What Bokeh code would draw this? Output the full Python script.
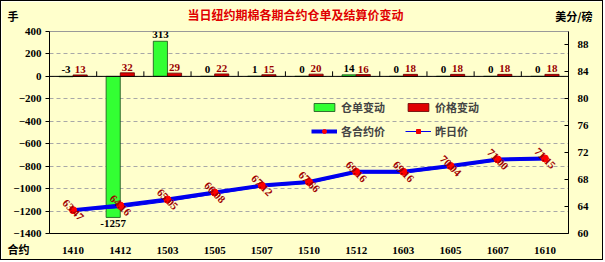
import math

from bokeh.core.properties import value
from bokeh.embed import file_html
from bokeh.models import (ColumnDataSource, FactorRange, FixedTicker, Legend, LegendItem,
                          LinearAxis, Range1d, Span, Title)
from bokeh.plotting import figure
from bokeh.resources import INLINE
from bokeh.transform import dodge

# NY cotton futures: warrant change (lots) and settlement price (cents/lb) per contract
contracts = ["1410", "1412", "1503", "1505", "1507", "1510", "1512", "1603", "1605", "1607", "1610"]
warrant_change = [-3, -1257, 313, 0, 1, 0, 14, 0, 0, 0, 0]
price_change = [13, 32, 29, 22, 15, 20, 16, 18, 18, 18, 18]
settle_price = [63.47, 64.16, 65.05, 66.08, 67.12, 67.66, 69.16, 69.16, 70.04, 71.00, 71.15]
prev_price = [63.34, 63.84, 64.76, 65.86, 66.97, 67.46, 69.00, 68.98, 69.86, 70.82, 70.97]
left_ticks = [-1400, -1200, -1000, -800, -600, -400, -200, 0, 200, 400]
right_ticks = [60, 64, 68, 72, 76, 80, 84, 88]

BG = "#FFFFCC"
NUM_FONT = value("Liberation Serif")
CJK_FONT = "Noto Sans CJK SC"

# label placement for the warrant bars: big drops are labelled under the bar end
g_lab_y = [v if v < -100 else max(v, 0) for v in warrant_change]
g_base = ["top" if v < -100 else "bottom" for v in warrant_change]
g_off = [3 if v < -100 else -3 for v in warrant_change]

src = ColumnDataSource(dict(
    contract=contracts,
    warrant=warrant_change,
    price_chg=price_change,
    settle=settle_price,
    prev=prev_price,
    g_txt=[str(v) for v in warrant_change],
    g_lab_y=g_lab_y,
    g_base=g_base,
    g_off=g_off,
    r_txt=[str(v) for v in price_change],
    s_txt=[f"{v:.2f}" for v in settle_price],
))

p = figure(
    x_range=FactorRange(*contracts, range_padding=0),
    y_range=Range1d(left_ticks[0], left_ticks[-1]),
    width=603, height=260,
    output_backend="svg", toolbar_location=None,
    min_border_left=48, min_border_right=36, min_border_top=30, min_border_bottom=28,
)
p.styles = {"border": "1px solid black"}
p.background_fill_color = BG
p.border_fill_color = BG
p.outline_line_color = "#999999"
p.extra_y_ranges = {"price": Range1d(60, 90)}
p.title.visible = False


# captions sit in collapsed (zero-height) side rows; the trailing blank lines
# lift the visible first line above the row's centre
def caption(text, side, align, offset, color="black", size="11px", lines=3):
    t = Title(text=text + "\n" * (lines - 1), align=align, offset=offset,
              vertical_align="middle", standoff=-200,
              text_color=color, text_font=CJK_FONT, text_font_style="bold",
              text_font_size=size)
    p.add_layout(t, side)


caption("当日纽约期棉各期合约仓单及结算价变动", "above", "left", 138, color="#E00000", size="12px")
caption("手", "above", "left", -42)
caption("美分/磅", "above", "right", -24)
caption("合约", "below", "left", -42, lines=2)

# axes
p.xaxis.axis_line_color = "black"
p.xaxis.major_tick_line_color = None
p.xaxis.minor_tick_line_color = None
p.xaxis.major_label_standoff = 7
p.xaxis.major_label_text_font = "Liberation Serif"
p.xaxis.major_label_text_font_style = "bold"
p.xaxis.major_label_text_font_size = "11px"
p.xaxis.major_label_text_color = "black"

p.yaxis.ticker = FixedTicker(ticks=left_ticks)
p.yaxis.axis_line_color = "black"
p.yaxis.major_tick_in = 0
p.yaxis.major_tick_out = 4
p.yaxis.minor_tick_line_color = None
p.yaxis.major_label_standoff = 4
p.yaxis.major_label_text_font = "Liberation Serif"
p.yaxis.major_label_text_font_style = "bold"
p.yaxis.major_label_text_font_size = "11px"
p.yaxis.major_label_text_color = "black"

right = LinearAxis(y_range_name="price", ticker=FixedTicker(ticks=right_ticks))
right.axis_line_color = "black"
right.major_tick_in = 4
right.major_tick_out = 0
right.minor_tick_line_color = None
right.major_label_standoff = 9
right.major_label_text_font = "Liberation Serif"
right.major_label_text_font_style = "bold"
right.major_label_text_font_size = "11px"
right.major_label_text_color = "black"
p.add_layout(right, "right")

p.xgrid.grid_line_color = None
p.ygrid.grid_line_color = "#A8A8A8"
p.ygrid.grid_line_dash = "4 3"

# category axis through zero with ticks between contracts
p.add_layout(Span(location=0, dimension="width", line_color="black", line_width=1))
p.segment(x0=dodge("contract", 0.5, range=p.x_range), y0=0,
          x1=dodge("contract", 0.5, range=p.x_range), y1=45,
          source=ColumnDataSource(dict(contract=contracts[:-1])),
          line_color="black", line_width=1)

# bars
g_bar = p.vbar(x=dodge("contract", -0.15, range=p.x_range), top="warrant", bottom=0,
               width=0.3, source=src, fill_color="#33FF33", line_color="#1A4D1A", line_width=0.8)
r_bar = p.vbar(x=dodge("contract", 0.15, range=p.x_range), top="price_chg", bottom=0,
               width=0.3, source=src, fill_color="#E00000", line_color="#600000", line_width=0.8)

p.text(x=dodge("contract", -0.15, range=p.x_range), y="g_lab_y", text="g_txt",
       text_baseline="g_base", y_offset="g_off", text_align="center", source=src,
       text_font=NUM_FONT, text_font_style="bold", text_font_size="11px", text_color="black")
p.text(x=dodge("contract", 0.15, range=p.x_range), y="price_chg", text="r_txt",
       text_baseline="bottom", y_offset=-2, text_align="center", source=src,
       text_font=NUM_FONT, text_font_style="bold", text_font_size="11px", text_color="#990000")

# price lines on the right axis
prev_line = p.line(x="contract", y="prev", source=src, y_range_name="price",
                   line_color="#0000EE", line_width=1)
prev_pts = p.scatter(x="contract", y="prev", source=src, y_range_name="price",
                     marker="square", size=3, fill_color="#EE0000", line_color="#EE0000")
set_line = p.line(x="contract", y="settle", source=src, y_range_name="price",
                  line_color="#0000EE", line_width=4)
set_pts = p.scatter(x="contract", y="settle", source=src, y_range_name="price",
                    marker="circle", size=7, fill_color="#FF0000", line_color="#FF0000")
p.text(x="contract", y="settle", text="s_txt", source=src, y_range_name="price",
       angle=-math.pi / 4, text_align="center", text_baseline="middle",
       text_font=NUM_FONT, text_font_style="bold", text_font_size="11px", text_color="#A00000")

# legend fills column by column: order items so rows read bars / lines
legend = Legend(
    items=[
        LegendItem(label="仓单变动", renderers=[g_bar]),
        LegendItem(label="各合约价", renderers=[set_line, set_pts]),
        LegendItem(label="价格变动", renderers=[r_bar]),
        LegendItem(label="昨日价", renderers=[prev_line, prev_pts]),
    ],
    ncols=2, location=(262, 92), padding=0, margin=0, spacing=4,
    glyph_width=26, glyph_height=10, label_standoff=4, label_height=20, label_width=60,
    label_text_font=CJK_FONT, label_text_font_style="bold", label_text_font_size="11px",
    background_fill_alpha=0, border_line_color=None,
)
p.add_layout(legend)

open("out.html", "w").write(file_html(p, INLINE))
